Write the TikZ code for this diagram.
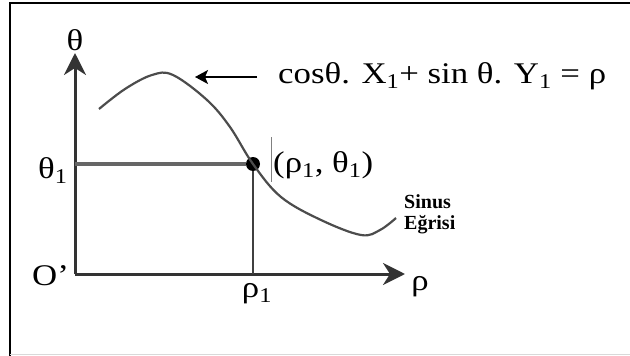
\documentclass[tikz,border=0pt]{standalone}
\usepackage{fontspec}
\setmainfont{Liberation Serif}
\newfontfamily\wideserif[FakeStretch=1.16]{Liberation Serif}
\usetikzlibrary{arrows.meta}

\begin{document}
\begin{tikzpicture}[x=1pt,y=-1pt,
  axis/.style={line width=3pt, draw=black!80, -{Stealth[length=22pt,width=22pt,inset=7pt]}},
  guide/.style={line width=2.6pt, draw=black!75},
  curve/.style={line width=2.2pt, draw=black!70},
  lbl/.style={font=\wideserif\fontsize{30}{32}\selectfont, inner sep=0pt},
  small/.style={font=\bfseries\fontsize{20}{22}\selectfont, inner sep=0pt}]
\useasboundingbox (0,0) rectangle (630,356);
% Frame
\draw[line width=2pt] (10,356) -- (10,3) -- (630,3);
\draw[black!15, line width=1.5pt] (10,354.5) -- (630,354.5);

% Axes
\coordinate (O) at (75,274);
\coordinate (ytop) at (75,53);
\coordinate (xend) at (405,274);
\draw[axis] (O) -- (ytop);
\draw[axis] (O) -- (xend);

% Point on the curve and its guide lines
\node[circle, fill=black, inner sep=0pt, minimum size=14pt] (P) at (253,164) {};
\draw[guide, line width=3.6pt, draw=black!60] (O |- P) -- (P.west);
\draw[guide] (P.south) -- (P |- O);

% Sine curve
\draw[curve] plot[smooth, tension=0.6] coordinates {(99,109) (125,89) (152,75) (173,75)
  (207,100) (230,127) (253,164) (281,197) (321,220) (361,235) (380,230) (396,218)};

% Axis labels
\node[lbl, anchor=base] (theta) at (75,50) {θ};
\node[lbl, anchor=base west] (theta1) at (38,178) {θ\textsubscript{1}};
\node[lbl, anchor=base west] (origin) at (32,285) {O’};
\node[lbl, anchor=base] (rho1) at (257,297) {ρ\textsubscript{1}};
\node[lbl, anchor=base] (rho) at (420,290) {ρ};

% Point label
\draw[black!50, line width=0.6pt] (271,137) -- (271,182);
\node[lbl, anchor=west] (Plbl) at (273,165) {(ρ\textsubscript{1}, θ\textsubscript{1})};

% Equation with arrow
\node[lbl, anchor=base west] (eq) at (278,83) {cosθ. X\textsubscript{1}+ sin θ. Y\textsubscript{1} = ρ};
\coordinate (peak) at (195,77);
\draw[line width=1.6pt, -{Stealth[length=13pt,width=14pt,inset=3pt]}] (257,77) -- (peak);

% Curve name
\node[small, anchor=base west] (sinus) at (404,208) {Sinus};
\node[small, anchor=base west] (egrisi) at (404,229) {Eğrisi};
\end{tikzpicture}
\end{document}
